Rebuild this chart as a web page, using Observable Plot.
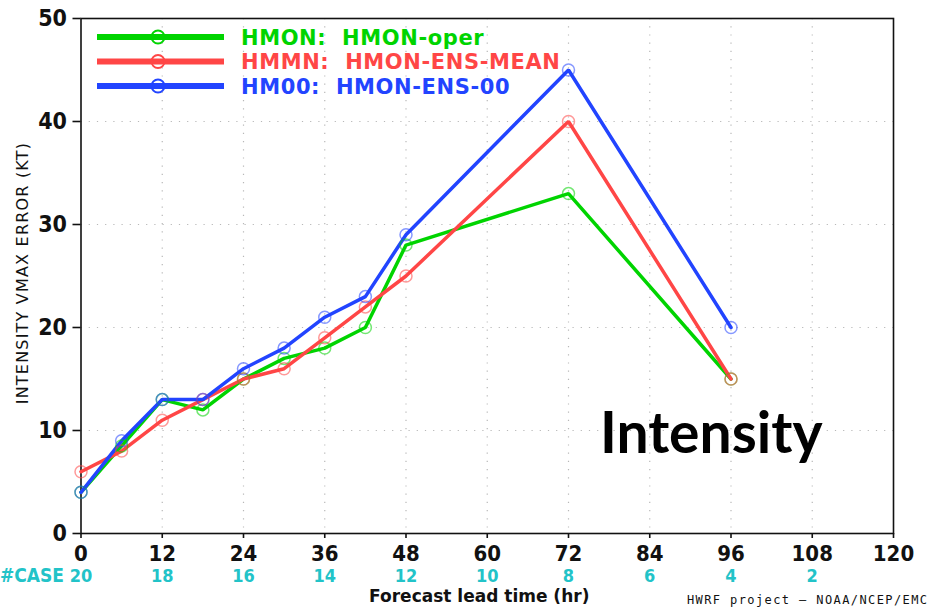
<!DOCTYPE html>
<html><head><meta charset="utf-8">
<script src="https://cdn.jsdelivr.net/npm/d3@7"></script>
<script src="https://cdn.jsdelivr.net/npm/@observablehq/plot@0.6"></script>
<style>
body{margin:0;background:#fff;}
#chart svg{display:block;}
</style>
</head><body><div id="chart"></div>
<script>
const leadTimes = [0, 6, 12, 18, 24, 30, 36, 42, 48, 72, 96];
const hmonOper = [4, 8.5, 13, 12, 15, 17, 18, 20, 28, 33, 15];
const hmonEnsMean = [6, 8, 11, 13, 15, 16, 19, 22, 25, 40, 15];
const hmonEns00 = [4, 9, 13, 13, 16, 18, 21, 23, 29, 45, 20];
const seriesNames = ["HMON", "HMMN", "HM00"];
const seriesLabels = ["HMON:  HMON-oper", "HMMN:  HMON-ENS-MEAN", "HM00:  HMON-ENS-00"];
const seriesColors = ["#00d400", "#ff4646", "#2244ff"];
const caseHours = [0, 12, 24, 36, 48, 60, 72, 84, 96, 108];
const caseCounts = [20, 18, 16, 14, 12, 10, 8, 6, 4, 2];
const xTicks = [0, 12, 24, 36, 48, 60, 72, 84, 96, 108, 120];
const yTicks = [0, 10, 20, 30, 40, 50];
const yLabel = "INTENSITY VMAX ERROR (KT)";
const xLabel = "Forecast lead time (hr)";
const credit = "HWRF project \u2013 NOAA/NCEP/EMC";

const seriesValues = [hmonOper, hmonEnsMean, hmonEns00];
const rows = [];
seriesNames.forEach((s, si) => leadTimes.forEach((h, i) => rows.push({series: s, hour: h, value: seriesValues[si][i]})));
const cases = caseHours.map((h, i) => ({hour: h, n: caseCounts[i]}));

const tickFont = "'DejaVu Sans Condensed', 'DejaVu Sans', sans-serif";
const cyan = "#22c3c8";

const chart = Plot.plot({
  width: 932, height: 613,
  marginLeft: 80.5, marginRight: 39, marginTop: 18, marginBottom: 80,
  style: {background: "#fff", overflow: "visible"},
  x: {domain: [0, 120]},
  y: {domain: [0, 50]},
  color: {domain: seriesNames, range: seriesColors},
  marks: [
    Plot.gridX(xTicks.slice(1, -1), {stroke: "#b8b8b8", strokeOpacity: 1, strokeWidth: 1.2, strokeDasharray: "1.2,7"}),
    Plot.gridY(yTicks.slice(1, -1), {stroke: "#b8b8b8", strokeOpacity: 1, strokeWidth: 1.2, strokeDasharray: "1.2,7"}),
    Plot.frame({stroke: "#111", strokeWidth: 1.6}),
    Plot.axisX(xTicks, {tickSize: 5, tickPadding: 7, fontSize: 22, fontWeight: "bold", fontFamily: tickFont, fill: "#111", stroke: "#111", strokeWidth: 1.6, label: null}),
    Plot.axisY(yTicks, {tickSize: 8, tickPadding: 6, fontSize: 23, fontWeight: "bold", fontFamily: tickFont, fill: "#111", stroke: "#111", strokeWidth: 1.6, label: null}),
    Plot.line(rows, {x: "hour", y: "value", z: "series", stroke: "series", strokeWidth: 3.5, strokeLinejoin: "miter"}),
    Plot.dot(rows, {x: "hour", y: "value", stroke: "series", r: 6, strokeWidth: 1.5, strokeOpacity: 0.55, fill: "none"}),
    Plot.text(cases, {x: "hour", text: "n", frameAnchor: "bottom", dy: 48, fill: cyan, fontSize: 18, fontWeight: "bold", fontFamily: tickFont}),
    Plot.text(["#CASE"], {frameAnchor: "bottom-left", dx: -17, dy: 48, textAnchor: "end", fill: cyan, fontSize: 19, fontWeight: "bold", fontFamily: tickFont}),
    Plot.text([xLabel], {frameAnchor: "bottom", dx: -8, dy: 68, fill: "#111", fontSize: 17, fontWeight: "bold", fontFamily: "'DejaVu Sans', sans-serif"}),
    Plot.text([credit], {frameAnchor: "bottom-right", dx: 35, dy: 70, textAnchor: "end", fill: "#111", fontSize: 12, fontFamily: "'DejaVu Sans Mono', monospace"}),
    Plot.text([yLabel], {frameAnchor: "left", dx: -58, dy: -3, rotate: -90, textAnchor: "middle", fill: "#111", fontSize: 16, fontFamily: "'DejaVu Sans', sans-serif"}),
    Plot.text(["Intensity"], {frameAnchor: "bottom-right", dx: -71, dy: -81, textAnchor: "end", fill: "#000", fontSize: 57, fontWeight: "bold", fontFamily: "Lato, 'Open Sans', sans-serif"})
  ]
});

const svg = d3.select(chart);
svg.selectAll("text").filter(function () { return this.textContent === credit; }).style("letter-spacing", "1.4px");
svg.selectAll("text").filter(function () { return this.textContent === yLabel; }).style("letter-spacing", "1.2px");

// legend inside plot area (top-left)
const lg = svg.append("g").attr("class", "legend").attr("text-anchor", "start");
seriesLabels.forEach((lab, i) => {
  const y = 37 + i * 24.5;
  lg.append("line").attr("x1", 97).attr("x2", 224).attr("y1", y).attr("y2", y)
    .attr("stroke", seriesColors[i]).attr("stroke-width", 6);
  lg.append("circle").attr("cx", 158).attr("cy", y).attr("r", 6.5)
    .attr("fill", "none").attr("stroke", seriesColors[i]).attr("stroke-width", 2);
  lg.append("text").attr("x", 241).attr("y", y).attr("dy", "0.36em")
    .attr("text-anchor", "start")
    .attr("fill", seriesColors[i]).attr("font-size", 21).attr("font-weight", "bold")
    .attr("font-family", "'DejaVu Sans', sans-serif")
    .style("white-space", "pre").style("letter-spacing", "0.6px").text(lab);
});
document.getElementById("chart").appendChild(chart);
</script>
</body></html>
